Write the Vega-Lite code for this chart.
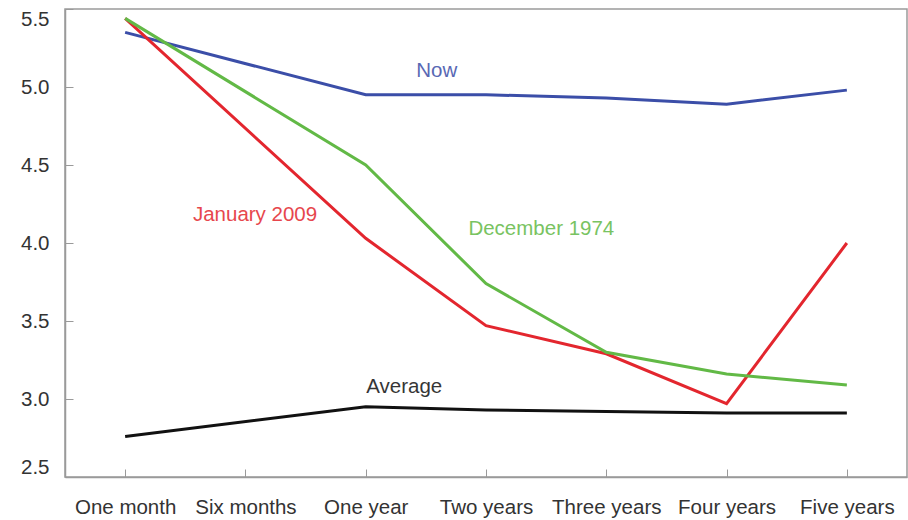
{
  "$schema": "https://vega.github.io/schema/vega-lite/v6.json",
  "autosize": "none",
  "width": 842,
  "height": 468,
  "padding": {"left": 65, "top": 9, "right": 1, "bottom": 43},
  "background": "white",
  "config": {
    "view": {"stroke": "#9a9a9a", "strokeWidth": 1.5},
    "font": "Liberation Sans"
  },
  "datasets": {
    "lines": [
      {"series": "Now", "term": 0, "rate": 5.35},
      {"series": "Now", "term": 2, "rate": 4.95},
      {"series": "Now", "term": 3, "rate": 4.95},
      {"series": "Now", "term": 4, "rate": 4.93},
      {"series": "Now", "term": 5, "rate": 4.89},
      {"series": "Now", "term": 6, "rate": 4.98},
      {"series": "January 2009", "term": 0, "rate": 5.44},
      {"series": "January 2009", "term": 2, "rate": 4.03},
      {"series": "January 2009", "term": 3, "rate": 3.47},
      {"series": "January 2009", "term": 4, "rate": 3.29},
      {"series": "January 2009", "term": 5, "rate": 2.97},
      {"series": "January 2009", "term": 6, "rate": 4.0},
      {"series": "December 1974", "term": 0, "rate": 5.44},
      {"series": "December 1974", "term": 2, "rate": 4.5},
      {"series": "December 1974", "term": 3, "rate": 3.74},
      {"series": "December 1974", "term": 4, "rate": 3.3},
      {"series": "December 1974", "term": 5, "rate": 3.16},
      {"series": "December 1974", "term": 6, "rate": 3.09},
      {"series": "Average", "term": 0, "rate": 2.76},
      {"series": "Average", "term": 2, "rate": 2.95},
      {"series": "Average", "term": 3, "rate": 2.93},
      {"series": "Average", "term": 4, "rate": 2.92},
      {"series": "Average", "term": 5, "rate": 2.91},
      {"series": "Average", "term": 6, "rate": 2.91}
    ],
    "labels": [
      {"series": "Now", "term": 2.59, "rate": 5.1},
      {"series": "January 2009", "term": 1.08, "rate": 4.18},
      {"series": "December 1974", "term": 3.46, "rate": 4.09},
      {"series": "Average", "term": 2.32, "rate": 3.08}
    ]
  },
  "encoding": {
    "x": {
      "field": "term",
      "type": "quantitative",
      "scale": {"domain": [-0.5, 6.5], "nice": false, "zero": false},
      "axis": {
        "title": null,
        "values": [0, 1, 2, 3, 4, 5, 6],
        "labelExpr": "['One month','Six months','One year','Two years','Three years','Four years','Five years'][datum.value]",
        "grid": false,
        "domainColor": "#9a9a9a",
        "domainWidth": 1.5,
        "tickColor": "#9a9a9a",
        "tickSize": -8,
        "labelPadding": 28,
        "labelFontSize": 20.5,
        "labelColor": "#333333",
        "labelFlush": false,
        "labelOverlap": false
      }
    },
    "y": {
      "field": "rate",
      "type": "quantitative",
      "scale": {"domain": [2.5, 5.5], "nice": false, "zero": false},
      "axis": {
        "title": null,
        "values": [2.5, 3, 3.5, 4, 4.5, 5, 5.5],
        "format": ".1f",
        "grid": false,
        "domainColor": "#9a9a9a",
        "domainWidth": 1.5,
        "tickColor": "#9a9a9a",
        "tickSize": -8,
        "labelPadding": 24,
        "labelFontSize": 20.5,
        "labelColor": "#333333",
        "labelFlush": 12,
        "labelOverlap": false
      }
    },
    "color": {
      "field": "series",
      "type": "nominal",
      "scale": {
        "domain": ["Now", "January 2009", "December 1974", "Average"],
        "range": ["#3b4ea8", "#e3262e", "#62b946", "#111111"]
      },
      "legend": null
    }
  },
  "layer": [
    {
      "data": {"name": "lines"},
      "mark": {"type": "line", "strokeWidth": 3, "strokeJoin": "miter"}
    },
    {
      "data": {"name": "labels"},
      "mark": {"type": "text", "fontSize": 20.5, "align": "center", "baseline": "middle", "opacity": 0.85},
      "encoding": {"text": {"field": "series"}}
    }
  ]
}
